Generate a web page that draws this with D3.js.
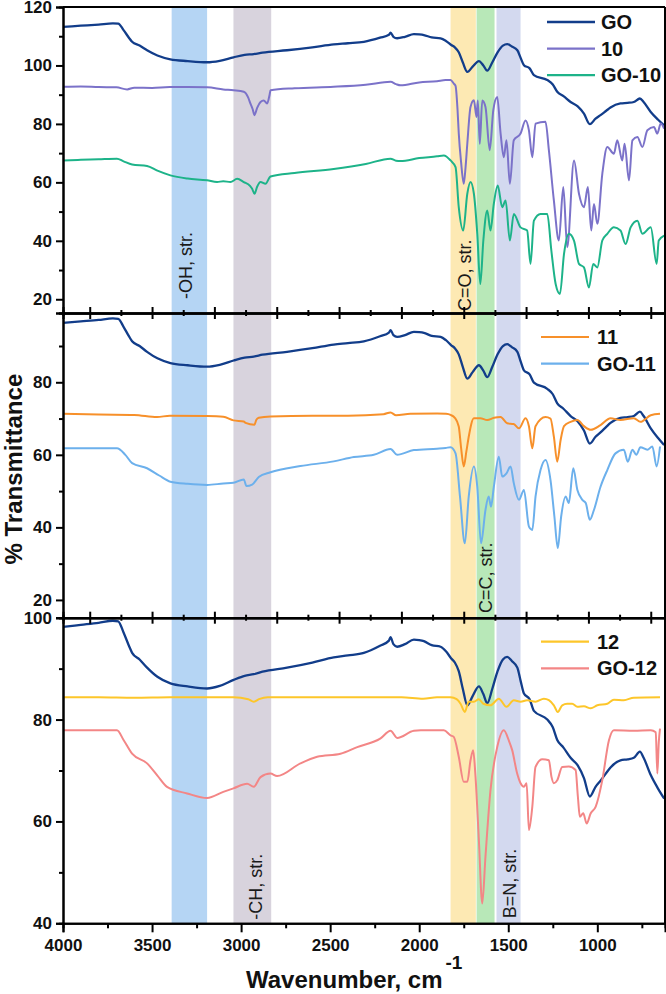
<!DOCTYPE html>
<html>
<head>
<meta charset="utf-8">
<script src="https://cdn.jsdelivr.net/npm/d3@7"></script>
<style>
  body { margin: 0; background: #fff; }
  svg { font-family: Arial, "Liberation Sans", sans-serif; display: block; }
  .axis path, .axis line { stroke: #000; stroke-width: 2; }
  .axis text { font-size: 17px; font-weight: bold; fill: #111; }
</style>
</head>
<body>
<div id="chart"></div>
<script>
// ---- data: [wavenumber (cm-1), % transmittance] ----
const go = [[4000,113.2],[3900,113.6],[3800,114],[3720,114.4],[3690,114.3],[3660,112.1],[3630,109.5],[3612,108.1],[3570,106.8],[3528,105.2],[3470,103.4],[3397,102.1],[3300,101.5],[3191,101.1],[3120,101.6],[3042,102.8],[2980,103.6],[2929,103.9],[2880,104.4],[2742,105.2],[2600,106.2],[2480,107.2],[2400,107.6],[2311,108.1],[2220,109.5],[2170,110.5],[2161,111.2],[2145,109.8],[2124,109.3],[2080,109.8],[2030,110.7],[2000,110.6],[1974,110.4],[1930,109.6],[1880,109.3],[1850,108.4],[1820,107],[1800,106.2],[1778,104.5],[1755,101],[1730,97.8],[1700,99.6],[1665,101.5],[1640,100],[1618,98.2],[1590,101],[1560,104.5],[1530,106.8],[1506,107.3],[1480,106.5],[1449,105.2],[1430,102.5],[1412,100.1],[1380,99],[1356,96.7],[1281,95],[1250,93.5],[1225,91],[1190,89.5],[1150,87.5],[1110,86],[1075,83.5],[1042,79.9],[1010,81.8],[982,83],[950,84.5],[926,85.6],[870,87],[830,87.2],[795,87.5],[761,88.7],[740,87.5],[700,84.1],[660,81.5],[625,79.5]];
const s10 = [[4000,92.7],[3900,92.8],[3800,92.6],[3700,92.5],[3640,91.8],[3600,92.4],[3500,92.3],[3400,92.6],[3300,92.6],[3191,92.5],[3100,91.8],[3042,91.5],[2985,91],[2960,89],[2948,87],[2935,85],[2925,83],[2910,85.5],[2891,87.5],[2873,88],[2854,87],[2840,90],[2835,91.5],[2700,92.2],[2480,92.7],[2300,93.4],[2161,94.4],[2130,93.6],[2105,93.2],[2000,94.2],[1900,94.6],[1852,95],[1824,95],[1806,93.8],[1796,93],[1785,85],[1778,76.8],[1765,67],[1750,59.5],[1740,65],[1730,73.2],[1712,85.8],[1693,88.1],[1678,82.4],[1671,88],[1660,73.2],[1646,88],[1628,85.8],[1604,71],[1584,84.7],[1562,89.2],[1543,76.7],[1525,68.6],[1510,74.4],[1491,59.5],[1469,74.4],[1431,76.7],[1403,81.2],[1384,77.8],[1365,68.6],[1347,80.1],[1291,80.7],[1272,71],[1244,53.8],[1216,40.1],[1191,58.4],[1169,37.8],[1131,67.5],[1103,56.1],[1075,51.5],[1053,58.4],[1034,43.5],[1019,52.6],[1000,45.8],[972,62.9],[944,72.1],[907,69.8],[888,74.4],[860,67.5],[847,73.2],[822,60.7],[803,74.4],[775,75.5],[747,72.1],[719,77.8],[682,78.9],[663,76.7],[644,80.1],[625,78.4]];
const go10 = [[4000,67.5],[3900,67.7],[3800,67.9],[3697,68.1],[3660,67.2],[3612,66.1],[3528,65.6],[3470,64],[3397,62.4],[3300,61.3],[3191,60.7],[3135,60.1],[3100,60.4],[3060,60.1],[3022,61.2],[2985,60.1],[2950,58.8],[2938,57.8],[2925,56.1],[2910,58.5],[2891,60.1],[2863,59.5],[2835,62],[2700,63.2],[2480,64.6],[2300,66.3],[2161,68.1],[2130,67.4],[2105,67.3],[2000,68.3],[1900,68.9],[1862,69.2],[1824,67.5],[1796,65.2],[1778,51.5],[1753,43.5],[1730,56.1],[1712,60.1],[1693,56.1],[1674,42.4],[1657,25.2],[1640,40.1],[1618,50.4],[1600,43.5],[1581,52.7],[1559,58.9],[1534,51.5],[1515,53.8],[1491,40.1],[1469,49.2],[1431,44.6],[1394,43.5],[1375,32.1],[1356,46.9],[1319,49.2],[1281,49.2],[1258,36.6],[1234,25.2],[1210,21.8],[1187,35.5],[1160,42.4],[1131,40.1],[1103,32.1],[1075,30.9],[1047,24],[1023,32.1],[1000,30.9],[972,40.1],[944,42.4],[907,44.6],[870,43.5],[841,38.9],[813,44.6],[775,46.9],[747,42.4],[700,44.6],[667,32.1],[655,40.1],[625,41.8]];
const s11 = [[4000,71.3],[3800,71.1],[3600,71],[3472,70.4],[3400,70.8],[3191,70.7],[3100,70.5],[3043,69.5],[2985,69.2],[2975,68.8],[2925,68.3],[2915,69.6],[2901,70.2],[2835,70.6],[2600,70.8],[2400,70.8],[2200,71.2],[2161,71.7],[2130,70.9],[2050,71.3],[1900,71.4],[1850,71.3],[1824,71],[1800,70.2],[1778,67.8],[1765,62],[1750,56.8],[1735,61],[1722,65],[1693,70.1],[1657,70.1],[1618,69.6],[1580,70.2],[1543,70.4],[1506,68.7],[1470,68.5],[1440,67.3],[1403,70.1],[1384,67.9],[1365,61.8],[1347,67.9],[1291,70.4],[1263,70],[1244,65],[1225,58.1],[1206,64.1],[1187,67.9],[1150,69.1],[1112,69.6],[1075,67.9],[1037,66.9],[982,68.2],[926,70.1],[870,69.6],[795,70.1],[758,69.1],[700,70.9],[648,71.3]];
const go11 = [[4000,61.8],[3800,61.8],[3697,61.8],[3650,60],[3612,57.7],[3528,56.3],[3460,54.3],[3397,52.6],[3300,52],[3191,51.7],[3100,52.1],[3043,52.3],[2985,53.2],[2970,51.4],[2938,51.8],[2901,53.9],[2835,55.2],[2667,56.9],[2480,58.2],[2367,59.4],[2255,60],[2161,61.6],[2124,60],[2030,61.3],[1900,61.7],[1852,61.9],[1824,62.1],[1796,60.4],[1771,48.5],[1744,35.6],[1722,48.5],[1693,56.8],[1674,51.2],[1653,35.6],[1628,44.8],[1610,48.5],[1597,45.7],[1581,51.2],[1553,59.5],[1534,54],[1510,54.9],[1487,56.8],[1469,52.2],[1440,47.6],[1412,50.3],[1384,40.2],[1365,39.3],[1347,48.5],[1319,55.8],[1291,58.6],[1263,53.1],[1241,43],[1222,34.3],[1203,43],[1178,48.5],[1160,46.7],[1135,56.3],[1112,50.3],[1084,47.6],[1065,46.7],[1042,42.1],[1019,44.8],[982,51.2],[944,55.8],[898,60.4],[851,61.4],[829,58.1],[803,61.4],[781,60],[758,62.1],[719,61.4],[691,62.3],[667,56.8],[648,62.3]];
const s12 = [[4000,84.4],[3800,84.4],[3600,84.3],[3400,84.4],[3043,84.4],[2960,84],[2929,83.5],[2900,84],[2850,84.4],[2500,84.4],[2100,84.4],[1978,84.1],[1900,84.4],[1824,84.4],[1790,84],[1768,83.1],[1744,81.5],[1722,83.5],[1693,83.5],[1665,84],[1640,83.1],[1600,82.8],[1553,84.1],[1510,82.5],[1469,83.8],[1431,83.5],[1394,83.8],[1347,83.5],[1300,84.1],[1272,83.8],[1244,82.8],[1222,81.5],[1197,82.8],[1169,83.1],[1141,83.1],[1112,82.5],[1075,82.6],[1037,82.2],[1000,82.8],[944,83.1],[907,83.9],[851,83.8],[795,84.3],[648,84.4]];
const go12 = [[4000,77.9],[3800,77.9],[3697,77.9],[3660,76],[3612,73.3],[3528,71.4],[3470,69],[3416,66.8],[3303,65.5],[3191,64.6],[3100,65.8],[3043,66.5],[2966,67.4],[2929,66.8],[2891,68.7],[2835,69.4],[2798,68.9],[2667,71.4],[2573,72.7],[2442,73.3],[2348,74.6],[2217,76.3],[2161,77.8],[2124,76.4],[2030,77.8],[1991,77.9],[1862,77.9],[1824,76.9],[1806,76.6],[1778,72.7],[1750,67.8],[1730,67.8],[1712,72],[1697,74],[1685,69.4],[1665,56.3],[1646,43.9],[1628,53.1],[1600,66.1],[1562,74.6],[1525,77.9],[1497,75.9],[1478,74],[1450,69.4],[1431,67.5],[1412,66.8],[1397,67.5],[1384,58.3],[1365,62.9],[1347,70.7],[1309,72.2],[1272,72],[1257,68.7],[1244,67.5],[1225,68.1],[1197,70.7],[1160,70.8],[1122,70.1],[1109,64.8],[1098,60.9],[1079,61.6],[1060,59.6],[1037,61.6],[1009,62.9],[972,68.1],[935,75.9],[907,77.9],[795,77.8],[700,77.9],[672,77.5],[663,69.4],[655,75.5],[648,78.2]];

// GO is plotted in every panel, shifted by these offsets
const goOffsets = [0, -16.8, -15.0];

const panelNames = [["GO", "10", "GO-10"], ["GO", "11", "GO-11"], ["GO", "12", "GO-12"]];
const panelData = [[go, s10, go10], [go, s11, go11], [go, s12, go12]];
const yDomains = [[15.3, 120], [15.1, 99.1], [40, 100]];
const yMajor = [[20, 40, 60, 80, 100, 120], [20, 40, 60, 80], [40, 60, 80, 100]];
const yMinor = [[30, 50, 70, 90, 110], [30, 50, 70, 90], [50, 70, 90]];

const xMajor = [4000, 3500, 3000, 2500, 2000, 1500, 1000];
const xMinor = [3750, 3250, 2750, 2250, 1750, 1250, 750];
const dividerMajor = [3850, 3500, 3150, 2800, 2450, 2100, 1750, 1400, 1050, 700];
const dividerMinor = [3675, 3325, 2975, 2625, 2275, 1925, 1575, 1225, 875];

const bandNames = ["-OH, str.", "-CH, str.", "C=O, str.", "C=C, str.", "B=N, str."];
const bandFrom = [3390, 3043, 1824, 1678, 1566];
const bandTo = [3191, 2831, 1682, 1577, 1431];
const labelWn = [3274, 2885, 1712, 1594, 1454];
const labelPanel = [0, 2, 0, 1, 2];
const labelValue = [20.1, 40.7, 16.0, 16.4, 41.0];

// ---- layout ----
const W = 666, H = 994;
const left = 63, right = 665;
const panelPx = [[7, 313], [313, 617.7], [617.7, 923.3]];
const bandColors = ["#b5d5f4", "#d8d3dd", "#fde9b3", "#b8e8b8", "#d3d9ef"];
const seriesColors = [["#123d8a", "#7b72c9", "#1db389"], ["#123d8a", "#f7902a", "#6cb0ec"], ["#123d8a", "#fdc62a", "#f38686"]];

const svg = d3.select("#chart").append("svg")
    .attr("width", W)
    .attr("height", H);

const x = d3.scaleLinear().domain([4000, 620]).range([left, right]);
const ys = yDomains.map((d, i) => d3.scaleLinear().domain(d).range([panelPx[i][1], panelPx[i][0]]));

// highlight bands
svg.selectAll("rect.band")
    .data(bandNames)
    .enter()
    .append("rect")
    .attr("class", "band")
    .attr("x", (d, i) => x(bandFrom[i]))
    .attr("width", (d, i) => x(bandTo[i]) - x(bandFrom[i]))
    .attr("y", panelPx[0][0])
    .attr("height", panelPx[2][1] - panelPx[0][0])
    .attr("fill", (d, i) => bandColors[i]);

// clip paths per panel
const defs = svg.append("defs");
panelPx.forEach((p, i) => {
    defs.append("clipPath").attr("id", "clip" + i)
        .append("rect")
        .attr("x", left).attr("y", p[0])
        .attr("width", right - left).attr("height", p[1] - p[0]);
});

// spectra
panelData.forEach((series, pi) => {
    const y = ys[pi];
    const g = svg.append("g").attr("clip-path", `url(#clip${pi})`);
    series.forEach((s, si) => {
        const off = si === 0 ? goOffsets[pi] : 0;
        const line = d3.line()
            .x(d => x(d[0]))
            .y(d => y(d[1] + off))
            .curve(d3.curveMonotoneX);
        g.append("path")
            .datum(s)
            .attr("fill", "none")
            .attr("stroke", seriesColors[pi][si])
            .attr("stroke-width", si === 0 ? 2.3 : 2)
            .attr("stroke-linejoin", "round")
            .attr("d", line);
    });
});

// band labels
svg.selectAll("text.band-label")
    .data(bandNames)
    .enter()
    .append("text")
    .attr("class", "band-label")
    .attr("transform", (d, i) => `translate(${x(labelWn[i])},${ys[labelPanel[i]](labelValue[i])}) rotate(-90)`)
    .attr("font-size", 18)
    .attr("fill", "#1a1a1a")
    .text(d => d);

// left axes
ys.forEach((y, i) => {
    svg.append("g")
        .attr("class", "axis")
        .attr("transform", `translate(${left},0)`)
        .call(d3.axisLeft(y).tickValues(yMinor[i]).tickSize(4).tickFormat(""));
    svg.append("g")
        .attr("class", "axis")
        .attr("transform", `translate(${left},0)`)
        .call(d3.axisLeft(y).tickValues(yMajor[i]).tickSize(7).tickPadding(4));
});

// dividers between panels, ticks crossing the line
[panelPx[0][1], panelPx[1][1]].forEach(py => {
    svg.append("g").attr("class", "axis").attr("transform", `translate(0,${py})`)
        .call(d3.axisTop(x).tickValues(dividerMajor).tickSize(6).tickFormat(""));
    svg.append("g").attr("class", "axis").attr("transform", `translate(0,${py})`)
        .call(d3.axisBottom(x).tickValues(dividerMajor).tickSize(6).tickFormat(""));
    svg.append("g").attr("class", "axis").attr("transform", `translate(0,${py})`)
        .call(d3.axisTop(x).tickValues(dividerMinor).tickSize(3).tickFormat(""));
    svg.append("g").attr("class", "axis").attr("transform", `translate(0,${py})`)
        .call(d3.axisBottom(x).tickValues(dividerMinor).tickSize(3).tickFormat(""));
});

// bottom axis
svg.append("g").attr("class", "axis")
    .attr("transform", `translate(0,${panelPx[2][1]})`)
    .call(d3.axisBottom(x).tickValues(xMinor).tickSize(5).tickFormat(""));
svg.append("g").attr("class", "axis")
    .attr("transform", `translate(0,${panelPx[2][1]})`)
    .call(d3.axisBottom(x).tickValues(xMajor).tickSize(9).tickPadding(7).tickFormat(d3.format("d")));

// frame top & right
svg.append("line")
    .attr("x1", left).attr("x2", right)
    .attr("y1", panelPx[0][0]).attr("y2", panelPx[0][0])
    .attr("stroke", "#000").attr("stroke-width", 2);
svg.append("line")
    .attr("x1", right).attr("x2", right)
    .attr("y1", panelPx[0][0]).attr("y2", panelPx[2][1])
    .attr("stroke", "#000").attr("stroke-width", 2);

// legends
const legendX = [[547, 595, 601], [541, 589, 597], [541, 589, 597]];
const legendTop = [15, 24, 24];
panelNames.forEach((names, pi) => {
    const items = pi === 0 ? [0, 1, 2] : [1, 2];
    items.forEach((si, k) => {
        const ly = panelPx[pi][0] + legendTop[pi] + k * 26.6;
        svg.append("line")
            .attr("x1", legendX[pi][0]).attr("x2", legendX[pi][1])
            .attr("y1", ly).attr("y2", ly)
            .attr("stroke", seriesColors[pi][si])
            .attr("stroke-width", si === 0 ? 2.5 : 2.2);
        svg.append("text")
            .attr("x", legendX[pi][2])
            .attr("y", ly)
            .attr("dominant-baseline", "central")
            .attr("font-size", 20)
            .attr("font-weight", "bold")
            .attr("fill", "#111")
            .text(names[si]);
    });
});

// axis titles
svg.append("text")
    .attr("transform", `translate(22,${(panelPx[0][0] + panelPx[2][1]) / 2 + 4}) rotate(-90)`)
    .attr("text-anchor", "middle")
    .attr("font-size", 24)
    .attr("font-weight", "bold")
    .attr("fill", "#111")
    .text("% Transmittance");

const xt = svg.append("text")
    .attr("x", 246)
    .attr("y", 988)
    .attr("font-size", 24)
    .attr("font-weight", "bold")
    .attr("fill", "#111");
xt.append("tspan").text("Wavenumber, cm");
xt.append("tspan").attr("dx", 3).attr("dy", -19).attr("font-size", 19).text("-1");
</script>
</body>
</html>
